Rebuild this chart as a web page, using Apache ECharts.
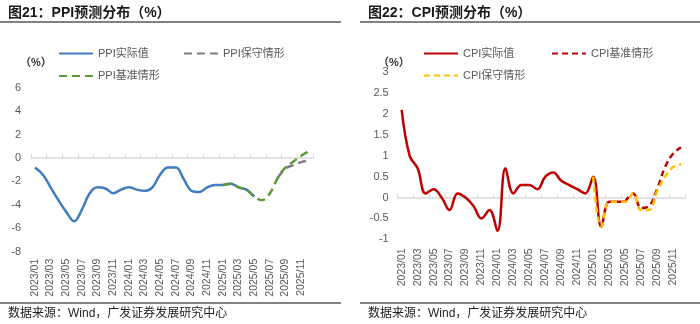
<!DOCTYPE html>
<html>
<head>
<meta charset="utf-8">
<script src="https://cdn.jsdelivr.net/npm/echarts@6/dist/echarts.min.js"></script>
<style>
  html, body { margin: 0; padding: 0; background: #fff; }
  #chart { width: 700px; height: 324px; }
</style>
</head>
<body>
<div id="chart"></div>
<script>
// Monthly categories 2023/01 – 2025/12
const months = [
  '2023/01','2023/02','2023/03','2023/04','2023/05','2023/06','2023/07','2023/08','2023/09','2023/10','2023/11','2023/12',
  '2024/01','2024/02','2024/03','2024/04','2024/05','2024/06','2024/07','2024/08','2024/09','2024/10','2024/11','2024/12',
  '2025/01','2025/02','2025/03','2025/04','2025/05','2025/06','2025/07','2025/08','2025/09','2025/10','2025/11','2025/12'
];

// PPI year-on-year (%)
const ppiActual = [
  -0.8, -1.4, -2.5, -3.6, -4.6, -5.4, -4.4, -3.0, -2.5, -2.6, -3.0, -2.7,
  -2.5, -2.7, -2.8, -2.5, -1.4, -0.8, -0.8, -1.8, -2.8, -2.9, -2.5, -2.3,
  -2.3, -2.2, -2.5, -2.7, -3.3
];
const ppiBaseStart = '2025/01';
const ppiBase = [-2.3, -2.2, -2.5, -2.7, -3.3, -3.6, -3.0, -1.7, -0.8, -0.3, 0.2, 0.6];
const ppiConservStart = '2025/08';
const ppiConserv = [-1.7, -0.9, -0.6, -0.35, -0.2];

// CPI year-on-year (%)
const cpiActual = [
  2.1, 1.0, 0.7, 0.1, 0.2, 0.0, -0.3, 0.1, 0.0, -0.2, -0.5, -0.3,
  -0.8, 0.7, 0.1, 0.3, 0.3, 0.2, 0.5, 0.6, 0.4, 0.3, 0.2, 0.1,
  0.5, -0.7, -0.1, -0.1, -0.1
];
const cpiBaseStart = '2025/05';
const cpiBase = [-0.1, 0.1, -0.25, -0.2, 0.2, 0.73, 1.05, 1.2];
const cpiConservStart = '2025/01';
const cpiConserv = [0.5, -0.7, -0.1, -0.1, -0.1, 0.1, -0.3, -0.3, 0.15, 0.5, 0.73, 0.8];

// place a partial series onto the full month axis
function align(values, startMonth) {
  const out = months.map(() => null);
  const s = months.indexOf(startMonth);
  values.forEach((v, i) => { out[s + i] = v; });
  return out;
}

const LATIN_CJK = '"Liberation Sans", Arial, "Noto Sans CJK SC", sans-serif';
const labelColor = '#595959';

function zeroAxis(gridIndex) {
  return {
    type: 'category', gridIndex, data: months, boundaryGap: true,
    axisLine: { onZero: true, lineStyle: { color: '#d9d9d9', width: 1.5 } },
    axisTick: { show: true, inside: true, interval: 1, length: 4, lineStyle: { color: '#d9d9d9' } },
    axisLabel: { show: false }, splitLine: { show: false }
  };
}
function labelAxis(gridIndex, margin) {
  return {
    type: 'category', gridIndex, data: months, boundaryGap: true, position: 'bottom',
    axisLine: { show: false, onZero: false }, axisTick: { show: false }, splitLine: { show: false },
    axisLabel: { interval: 1, rotate: 90, margin, fontSize: 10.5, color: labelColor, fontFamily: LATIN_CJK }
  };
}
function valueAxis(gridIndex, min, max, interval, margin, fmt) {
  return {
    type: 'value', gridIndex, min, max, interval,
    axisLine: { show: false }, axisTick: { show: false }, splitLine: { show: false },
    axisLabel: { margin, fontSize: 11, color: labelColor, fontFamily: LATIN_CJK, formatter: fmt }
  };
}
function line(name, data, xAxisIndex, yAxisIndex, color, dash, z) {
  return {
    name, type: 'line', data, xAxisIndex, yAxisIndex, smooth: 0.4,
    symbol: 'none', connectNulls: false, z,
    lineStyle: { color, width: 2.5, type: dash || 'solid' },
    itemStyle: { color }
  };
}
function legendItem(name, left, top) {
  return {
    data: [name], left, top, itemWidth: 34, itemHeight: 14, padding: 0,
    itemStyle: { opacity: 0 },
    textStyle: { fontSize: 11, color: labelColor, fontFamily: LATIN_CJK }
  };
}

const chart = echarts.init(document.getElementById('chart'), null, { renderer: 'canvas' });

chart.setOption({
  animation: false,
  backgroundColor: '#fff',
  grid: [
    { left: 31, top: 87.8, width: 282, height: 163.9 },
    { left: 397.7, top: 72.3, width: 287.3, height: 167 }
  ],
  xAxis: [zeroAxis(0), labelAxis(0, 7), zeroAxis(1), labelAxis(1, 9)],
  yAxis: [
    valueAxis(0, -8, 6, 2, 10),
    valueAxis(1, -1, 3, 0.5, 9, v => String(v))
  ],
  legend: [
    legendItem('PPI实际值', 58, 48),
    legendItem('PPI保守情形', 183, 48),
    legendItem('PPI基准情形', 58, 70.5),
    legendItem('CPI实际值', 423, 48),
    legendItem('CPI基准情形', 551, 48),
    legendItem('CPI保守情形', 423, 70)
  ],
  series: [
    line('PPI实际值', ppiActual, 0, 0, '#3f7cbf', null, 2),
    line('PPI保守情形', align(ppiConserv, ppiConservStart), 0, 0, '#7f7f7f', [8, 5], 3),
    line('PPI基准情形', align(ppiBase, ppiBaseStart), 0, 0, '#5b9a35', [8, 5], 4),
    line('CPI实际值', cpiActual, 2, 1, '#c00000', null, 2),
    line('CPI基准情形', align(cpiBase, cpiBaseStart), 2, 1, '#c00000', [6, 4], 3),
    line('CPI保守情形', align(cpiConserv, cpiConservStart), 2, 1, '#ffc000', [6, 4], 4)
  ],
  graphic: [
    { type: 'text', left: 8, top: 6, style: { text: '图21：PPI预测分布（%）', font: 'bold 14px ' + LATIN_CJK, fill: '#1a1a1a' } },
    { type: 'text', left: 368, top: 6, style: { text: '图22：CPI预测分布（%）', font: 'bold 14px ' + LATIN_CJK, fill: '#1a1a1a' } },
    { type: 'line', shape: { x1: 0, y1: 22, x2: 341, y2: 22 }, style: { stroke: '#595959', lineWidth: 1.5 } },
    { type: 'line', shape: { x1: 360, y1: 22, x2: 700, y2: 22 }, style: { stroke: '#595959', lineWidth: 1.5 } },
    { type: 'text', left: 20, top: 57, style: { text: '（%）', font: 'bold 11px ' + LATIN_CJK, fill: '#333' } },
    { type: 'text', left: 378, top: 57, style: { text: '（%）', font: 'bold 11px ' + LATIN_CJK, fill: '#333' } },
    { type: 'line', shape: { x1: 0, y1: 303, x2: 341, y2: 303 }, style: { stroke: '#595959', lineWidth: 1.5 } },
    { type: 'line', shape: { x1: 360, y1: 303, x2: 700, y2: 303 }, style: { stroke: '#595959', lineWidth: 1.5 } },
    { type: 'text', left: 8, top: 308, style: { text: '数据来源：Wind，广发证券发展研究中心', font: '12px ' + LATIN_CJK, fill: '#222' } },
    { type: 'text', left: 368, top: 308, style: { text: '数据来源：Wind，广发证券发展研究中心', font: '12px ' + LATIN_CJK, fill: '#222' } }
  ]
});
</script>
</body>
</html>
